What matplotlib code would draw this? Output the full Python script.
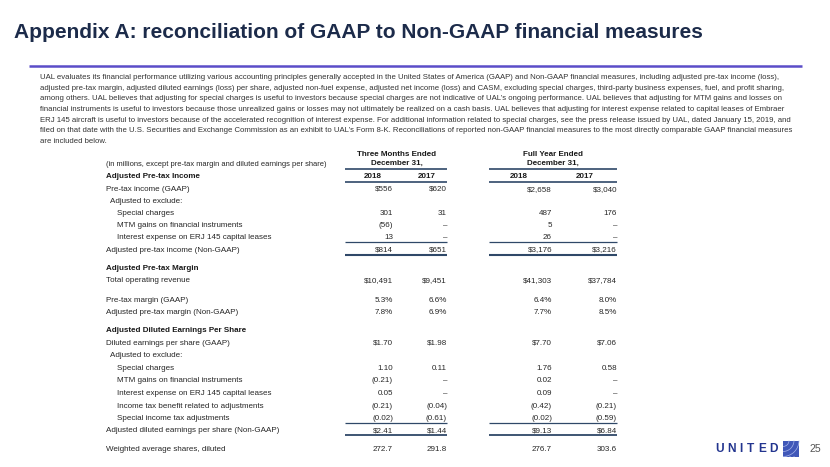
import matplotlib
matplotlib.use("Agg")
import matplotlib.pyplot as plt
from matplotlib import font_manager as fm
from matplotlib.patches import Rectangle, Arc

# ---------------- data ----------------
title = "Appendix A: reconciliation of GAAP to Non-GAAP financial measures"
paragraph = [
    "UAL evaluates its financial performance utilizing various accounting principles generally accepted in the United States of America (GAAP) and Non-GAAP financial measures, including adjusted pre-tax income (loss),",
    "adjusted pre-tax margin, adjusted diluted earnings (loss) per share, adjusted non-fuel expense, adjusted net income (loss) and CASM, excluding special charges, third-party business expenses, fuel, and profit sharing,",
    "among others. UAL believes that adjusting for special charges is useful to investors because special charges are not indicative of UAL\u2019s ongoing performance. UAL believes that adjusting for MTM gains and losses on",
    "financial instruments is useful to investors because those unrealized gains or losses may not ultimately be realized on a cash basis. UAL believes that adjusting for interest expense related to capital leases of Embraer",
    "ERJ 145 aircraft is useful to investors because of the accelerated recognition of interest expense. For additional information related to special charges, see the press release issued by UAL, dated January 15, 2019, and",
    "filed on that date with the U.S. Securities and Exchange Commission as an exhibit to UAL\u2019s Form 8-K. Reconciliations of reported non-GAAP financial measures to the most directly comparable GAAP financial measures",
    "are included below.",
]
unit_note = "(in millions, except pre-tax margin and diluted earnings per share)"
group_headers = ["Three Months Ended\nDecember 31,", "Full Year Ended\nDecember 31,"]
years = ["2018", "2017", "2018", "2017"]

pretax_gaap = [556, 620, 2658, 3040]
special_charges = [301, 31, 487, 176]
mtm_gains = [-56, None, 5, None]
interest_erj = [13, None, 26, None]
adj_pretax = [814, 651, 3176, 3216]
revenue = [10491, 9451, 41303, 37784]
margin_gaap = [5.3, 6.6, 6.4, 8.0]
margin_adj = [7.8, 6.9, 7.7, 8.5]
eps_gaap = [1.70, 1.98, 7.70, 7.06]
eps_special = [1.10, 0.11, 1.76, 0.58]
eps_mtm = [-0.21, None, 0.02, None]
eps_interest = [0.05, None, 0.09, None]
eps_tax_benefit = [-0.21, -0.04, -0.42, -0.21]
eps_special_tax = [-0.02, -0.61, -0.02, -0.59]
eps_adj = [2.41, 1.44, 9.13, 6.84]
shares = [272.7, 291.8, 276.7, 303.6]
logo_word = "UNITED"
page_number = "25"


def fmt(v, kind):
    if v is None:
        return "\u2013"
    neg = v < 0
    a = abs(v)
    if kind == "usd":
        s = "${:,.0f}".format(a)
    elif kind == "int":
        s = "{:,.0f}".format(a)
    elif kind == "pct":
        s = "{:.1f}%".format(a)
    elif kind == "usd2":
        s = "${:.2f}".format(a)
    elif kind == "dec2":
        s = "{:.2f}".format(a)
    else:
        s = "{:.1f}".format(a)
    return "(" + s + ")" if neg else s


# rows: (label, indent level, bold, values, kind, y)
rows = [
    ("Adjusted Pre-tax Income", 0, True, None, None, 177.0),
    ("Pre-tax income (GAAP)", 0, False, pretax_gaap, "usd", 189.3),
    ("Adjusted to exclude:", 1, False, None, None, 201.6),
    ("Special charges", 2, False, special_charges, "int", 213.8),
    ("MTM gains on financial instruments", 2, False, mtm_gains, "int", 225.8),
    ("Interest expense on ERJ 145 capital leases", 2, False, interest_erj, "int", 237.9),
    ("Adjusted pre-tax income (Non-GAAP)", 0, False, adj_pretax, "usd", 250.0),
    ("Adjusted Pre-tax Margin", 0, True, None, None, 268.3),
    ("Total operating revenue", 0, False, revenue, "usd", 281.0),
    ("Pre-tax margin (GAAP)", 0, False, margin_gaap, "pct", 300.0),
    ("Adjusted pre-tax margin (Non-GAAP)", 0, False, margin_adj, "pct", 312.6),
    ("Adjusted Diluted Earnings Per Share", 0, True, None, None, 330.7),
    ("Diluted earnings per share (GAAP)", 0, False, eps_gaap, "usd2", 343.3),
    ("Adjusted to exclude:", 1, False, None, None, 355.7),
    ("Special charges", 2, False, eps_special, "dec2", 368.3),
    ("MTM gains on financial instruments", 2, False, eps_mtm, "dec2", 381.0),
    ("Interest expense on ERJ 145 capital leases", 2, False, eps_interest, "dec2", 393.4),
    ("Income tax benefit related to adjustments", 2, False, eps_tax_benefit, "dec2", 406.0),
    ("Special income tax adjustments", 2, False, eps_special_tax, "dec2", 418.4),
    ("Adjusted diluted earnings per share (Non-GAAP)", 0, False, eps_adj, "usd2", 431.0),
    ("Weighted average shares, diluted", 0, False, shares, "dec1", 449.3),
]

# ---------------- layout ----------------
W, H = 830, 467
fig = plt.figure(figsize=(8.3, 4.67), dpi=100)
ax = fig.add_axes([0, 0, 1, 1])
ax.set_xlim(0, W)
ax.set_ylim(H, 0)
ax.axis("off")
renderer = fig.canvas.get_renderer()


def has_font(name):
    try:
        fm.findfont(fm.FontProperties(family=name), fallback_to_default=False)
        return True
    except Exception:
        return False


BASE = "Liberation Sans" if has_font("Liberation Sans") else "DejaVu Sans"


def fit(t, width):
    bb = t.get_window_extent(renderer=renderer)
    t.set_fontsize(t.get_fontsize() * width / bb.width)
    return t.get_fontsize()


NAVY = "#1C2B4A"
TEXT = "#262626"
LINE = "#2F4868"

# title
t = ax.text(14, 32.5, title, fontsize=15, fontweight="bold", color=NAVY,
            family=BASE, va="center", ha="left")
fit(t, 691)

# purple rule
ax.plot([29, 802], [66, 66], color="#5B4DC8", lw=1.8, solid_capstyle="butt")

# paragraph
p0 = ax.text(40, 77.5, paragraph[0], fontsize=6.3, color="#333333", family=BASE,
             va="center", ha="left")
psize = fit(p0, 741)
for i, line in enumerate(paragraph[1:], start=1):
    ax.text(40, 77.5 + 10.7 * i, line, fontsize=psize, color="#333333",
            family=BASE, va="center", ha="left")

# table font size
probe = ax.text(105.7, -50, "Adjusted diluted earnings per share (Non-GAAP)",
                fontsize=6, family=BASE)
tsize = fit(probe, 174.3)
probe.remove()

note = ax.text(105.7, 165, unit_note, fontsize=5, color=TEXT, family=BASE,
               va="center", ha="left")
fit(note, 222)

# group headers
group_centers = [397, 553]
group_spans = [(345, 447), (489, 617)]
for gh, cx in zip(group_headers, group_centers):
    l1, l2 = gh.split("\n")
    ax.text(cx, 154.5, l1, fontsize=tsize, fontweight="bold", color="#1a1a1a",
            family=BASE, va="center", ha="center")
    ax.text(cx, 163.0, l2, fontsize=tsize, fontweight="bold", color="#1a1a1a",
            family=BASE, va="center", ha="center")

year_centers = [373, 427, 519, 585]
for yr, cx in zip(years, year_centers):
    ax.text(cx, 177.0, yr, fontsize=tsize, fontweight="bold", color="#1a1a1a",
            family=BASE, va="center", ha="center")

value_right = [393, 447, 552, 617]
indent = {0: 105.7, 1: 110.0, 2: 117.0}
for label, lvl, bold, vals, kind, y in rows:
    ax.text(indent[lvl], y, label, fontsize=tsize,
            fontweight="bold" if bold else "normal",
            color="#1a1a1a" if bold else TEXT, family=BASE,
            va="center", ha="left")
    if vals is not None:
        for v, xr in zip(vals, value_right):
            ax.text(xr, y, fmt(v, kind), fontsize=tsize, color=TEXT,
                    family=BASE, va="center", ha="right")


def rule(y, lw=1.0):
    for x0, x1 in group_spans:
        ax.plot([x0, x1], [y, y], color=LINE, lw=lw, solid_capstyle="butt")


rule(168.8, 1.2)
rule(182.3, 1.2)
rule(242.2, 0.9)
rule(254.6, 1.5)
rule(422.6, 0.9)
rule(435.4, 1.3)

# logo: evenly tracked letters between x=715 and x=778
LOGO = "#23358F"
letters = []
widths = []
for ch in logo_word:
    lt = ax.text(0, 448.5, ch, fontsize=8.6, fontweight="bold", color=LOGO,
                 family=BASE, va="center", ha="left")
    letters.append(lt)
    widths.append(lt.get_window_extent(renderer=renderer).width)
gap = (63.0 - sum(widths)) / (len(widths) - 1)
x = 715.0
for lt, w in zip(letters, widths):
    lt.set_x(x)
    x += w + gap

ax.add_patch(Rectangle((783, 440.5), 16, 16, facecolor="#4057B8",
                       edgecolor="none"))
for r in (5, 9, 13, 17):
    ax.add_patch(Arc((799, 456.5), 2 * r, 2 * r, theta1=90, theta2=180,
                     color="white", lw=0.6))
for r in (6, 11, 16):
    ax.add_patch(Arc((783, 440.5), 2 * r, 2 * r, theta1=0, theta2=90,
                     color="#a8b6ea", lw=0.5))
ax.text(809, 449, page_number, fontsize=7.6, color="#555555", family=BASE,
        va="center", ha="left")

fig.savefig("out.png", dpi=100)
